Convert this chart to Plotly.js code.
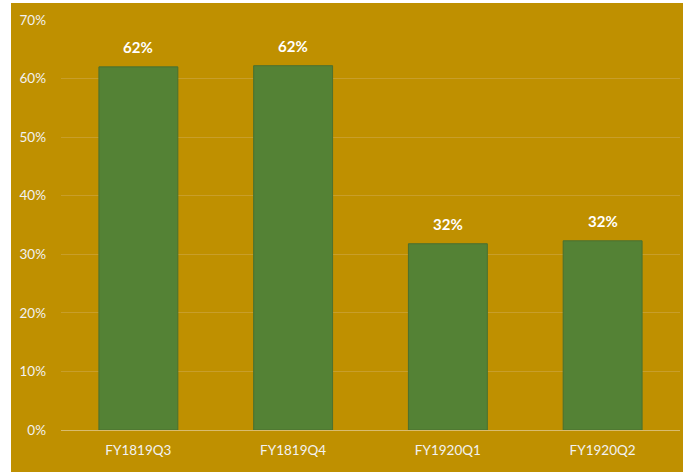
<!DOCTYPE html>
<html><head><meta charset="utf-8">
<script src="https://cdn.plot.ly/plotly-3.0.1.min.js"></script>
<style>
html,body{margin:0;padding:0;background:#ffffff;width:683px;height:472px;overflow:hidden;}
#chart{position:absolute;left:11px;top:3px;width:672px;height:469px;}
</style></head><body>
<div id="chart"></div>
<script>
const categories = ["FY1819Q3", "FY1819Q4", "FY1920Q1", "FY1920Q2"];
const values = [0.62, 0.622, 0.318, 0.323];
const labels = ["62%", "62%", "32%", "32%"];
const yTicks = [0, 0.1, 0.2, 0.3, 0.4, 0.5, 0.6, 0.7];
const yTickText = ["0%", "10%", "20%", "30%", "40%", "50%", "60%", "70%"];

const fontFam = "Lato, 'Open Sans', sans-serif";
const trace = {
  type: "bar", x: categories, y: values,
  marker: {color: "#548235", line: {color: "#4a7030", width: 1}},
  hoverinfo: "none"
};
const annotations = categories.map((c, i) => ({
  x: c, y: values[i], xref: "x", yref: "y", text: "<b>" + labels[i] + "</b>",
  showarrow: false, yanchor: "bottom", yshift: 9,
  font: {family: fontFam, size: 15, color: "#ffffff"}
}));
const layout = {
  width: 672, height: 469,
  margin: {l: 50, r: 3, t: 17, b: 42},
  paper_bgcolor: "#BF9000", plot_bgcolor: "#BF9000",
  bargap: 0.49, showlegend: false,
  font: {family: fontFam, size: 13, color: "#F2F2F2"},
  xaxis: {showgrid: false, showline: true, linecolor: "#D9BC6E", linewidth: 1,
    ticks: "", ticklabelstandoff: 8, tickfont: {family: fontFam, size: 13.5, color: "#F2F2F2"}},
  yaxis: {range: [0, 0.7], tickvals: yTicks, ticktext: yTickText, showgrid: true,
    gridcolor: "#C89E2A", gridwidth: 1, zeroline: false, showline: false, ticks: "",
    ticklabelstandoff: 14, tickfont: {family: fontFam, size: 13.5, color: "#F2F2F2"}},
  annotations: annotations
};
Plotly.newPlot("chart", [trace], layout, {displayModeBar: false, staticPlot: true});
</script>
</body></html>
